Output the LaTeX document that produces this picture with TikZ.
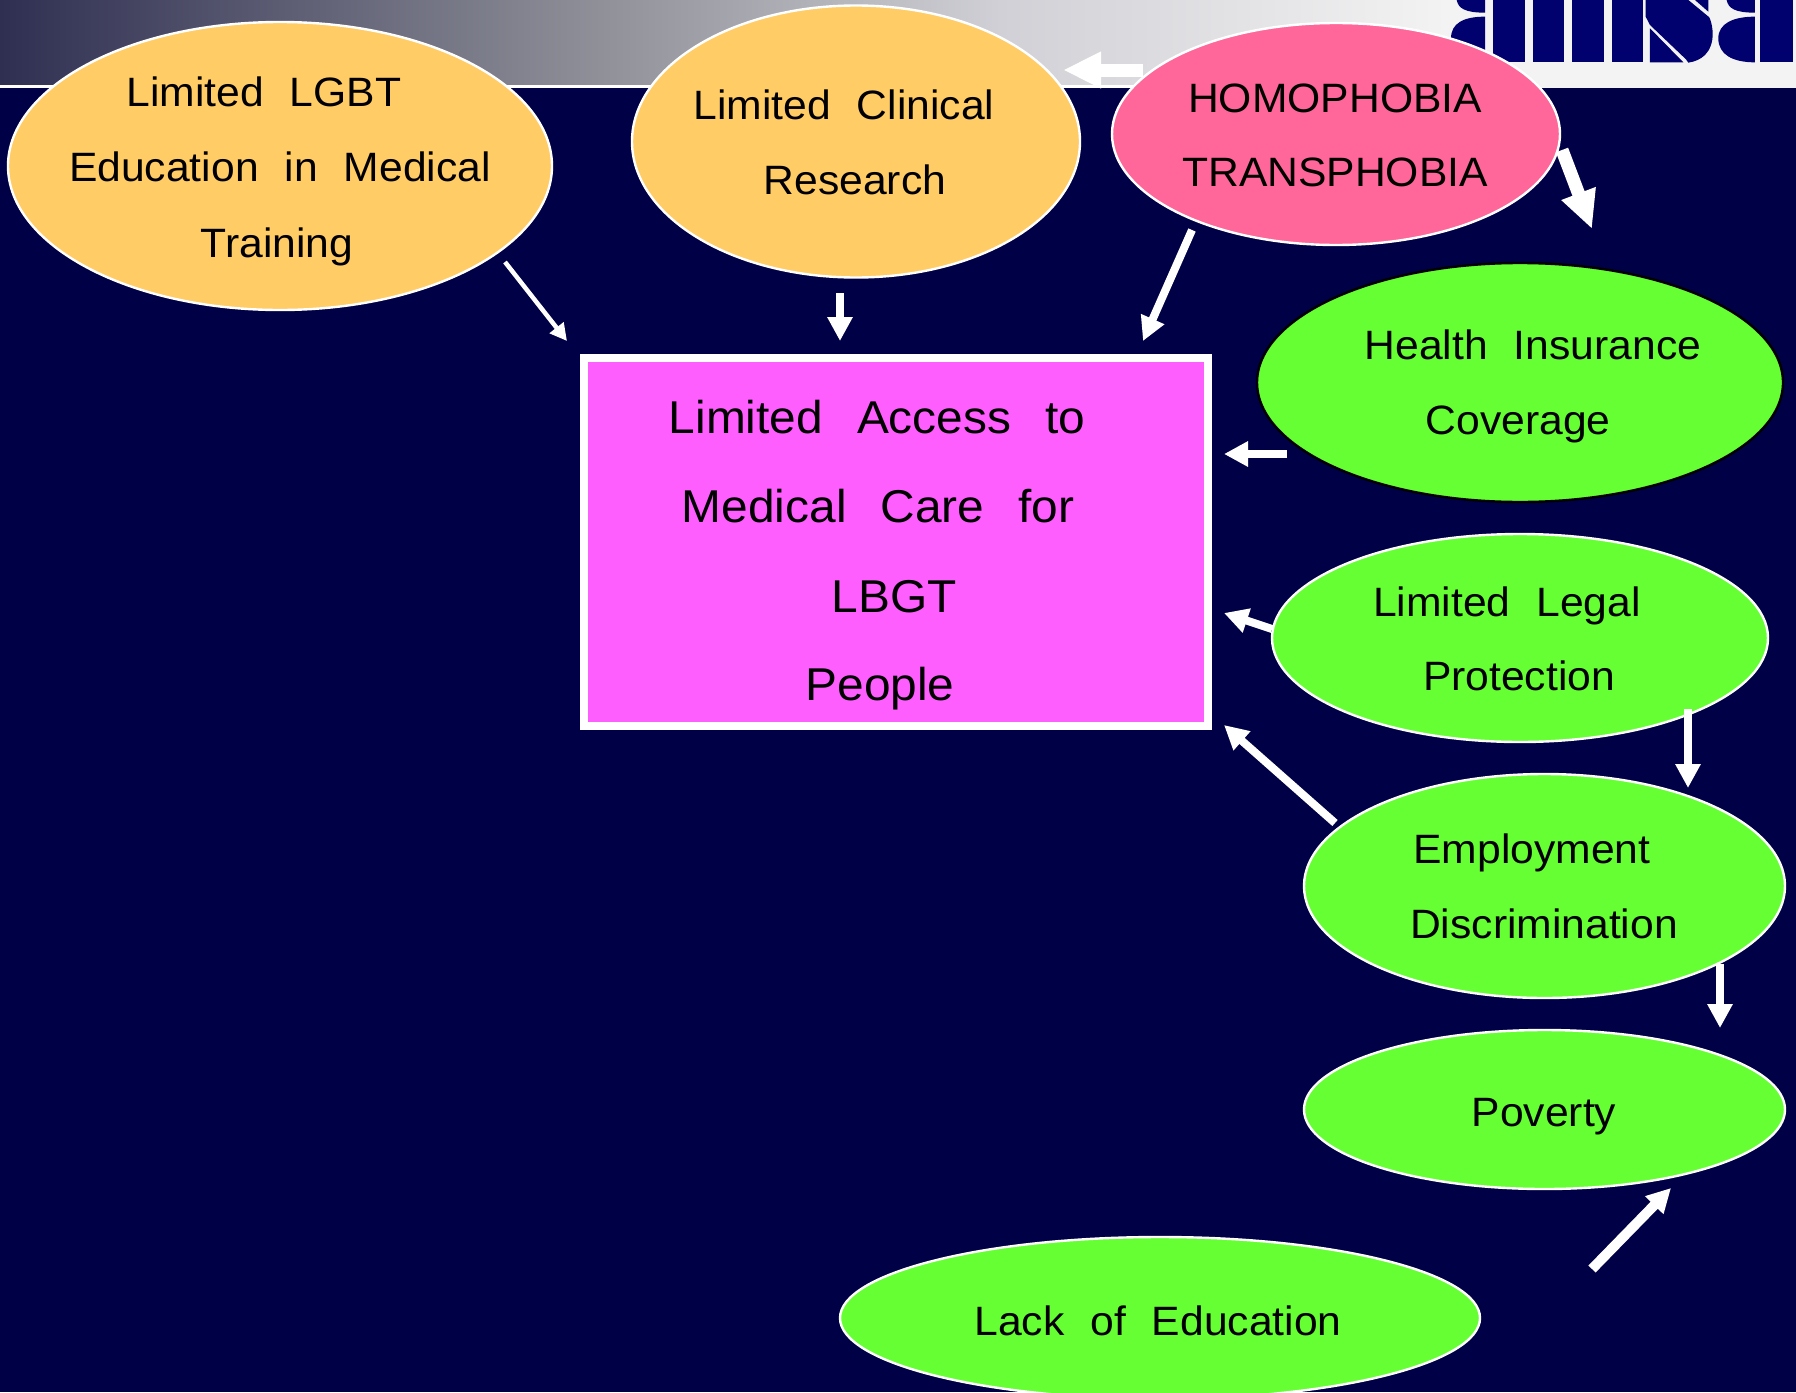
\documentclass[tikz,border=0pt]{standalone}
\usepackage{fontspec}
\setmainfont[FakeStretch=1.04]{Liberation Sans}
\usetikzlibrary{arrows.meta,shapes.geometric}
\definecolor{navy}{HTML}{000046}
\definecolor{logoblue}{HTML}{00006E}
\definecolor{orangefill}{HTML}{FFCC66}
\definecolor{pinkfill}{HTML}{FF6699}
\definecolor{greenfill}{HTML}{66FF33}
\definecolor{magentafill}{HTML}{FF5EFF}
\definecolor{hleft}{HTML}{2F2F52}
\definecolor{hmidA}{HTML}{8F9098}
\definecolor{hmidB}{HTML}{D0D0D6}
\definecolor{hright}{HTML}{F3F3F3}
\newcommand{\ovalfont}{\fontsize{41}{41}\selectfont\setlength{\spaceskip}{26pt}\relax}
\newcommand{\boxfont}{\fontsize{46}{46}\selectfont\setlength{\spaceskip}{34pt}\relax}
\tikzset{
  oval/.style={ellipse,draw=white,line width=2.4pt,inner sep=0pt,outer sep=0pt},
  ovalorange/.style={oval,fill=orangefill},
  ovalpink/.style={oval,fill=pinkfill},
  ovalgreen/.style={oval,fill=greenfill},
  ovalblack/.style={oval,fill=greenfill,draw=black},
  txt/.style={anchor=base,inner sep=0pt,text=black,execute at begin node=\ovalfont},
  bigtxt/.style={anchor=base,inner sep=0pt,text=black,execute at begin node=\boxfont},
  arrowthin/.style={draw=white,line width=4.5pt,-{Triangle[length=17pt,width=17pt]}},
  arrowmid/.style={draw=white,line width=8pt,-{Triangle[length=24pt,width=24pt]}},
  arrowfat/.style={draw=white,line width=13pt,-{Triangle[length=38pt,width=34pt]}},
  logoshape/.style={fill=logoblue,draw=none}
}
\begin{document}
\begin{tikzpicture}[x=1pt,y=-1pt]
\useasboundingbox (0,0) rectangle (1796,1392);
\clip (0,0) rectangle (1796,1392);
\fill[navy] (0,0) rectangle (1796,1392);
% header band
\shade[left color=hleft,right color=hmidA,draw=none] (0,0) rectangle (601,85);
\shade[left color=hmidA,right color=hmidB,draw=none] (600,0) rectangle (1001,85);
\shade[left color=hmidB,right color=hright,draw=none] (1000,0) rectangle (1447,85);
\fill[hright] (1447,0) rectangle (1796,88);
\fill[white] (0,85) rectangle (1447,88);
% logo fragment
\begin{scope}[shift={(1440,0)},x=0.3333pt,y=-0.3333pt]
  \fill[logoshape] (50,0) .. controls (55,25) and (75,38) .. (135,38) -- (135,0) -- cycle;
  \fill[logoshape] (135,50) .. controls (70,50) and (33,70) .. (33,115) .. controls (33,165) and (70,187) .. (135,187) -- cycle;
  \fill[logoshape] (160,0) rectangle (255,187);
  \fill[logoshape] (278,0) rectangle (373,187);
  \fill[logoshape] (397,0) rectangle (493,187);
  \fill[logoshape] (515,0) rectangle (610,187);
  \fill[logoshape] (617,0) -- (745,0) -- (808,52) .. controls (825,90) and (830,175) .. (745,188) -- (738,178) -- (630,75) -- (617,50) -- cycle;
  \fill[logoshape] (630,85) -- (730,187) -- (630,187) -- cycle;
  \fill[logoshape] (765,0) -- (805,0) -- (805,35) -- cycle;
  \fill[logoshape] (860,0) .. controls (865,25) and (885,38) .. (945,38) -- (945,0) -- cycle;
  \fill[logoshape] (945,50) .. controls (880,50) and (835,70) .. (835,115) .. controls (835,165) and (880,187) .. (945,187) -- cycle;
  \fill[logoshape] (960,0) rectangle (1058,187);
\end{scope}
% arrow end points
\coordinate (lgbt-out) at (505,262);
\coordinate (box-in-lgbt) at (567,341);
\coordinate (clin-out) at (840,293);
\coordinate (box-in-clin) at (840,341);
\coordinate (homo-out-box) at (1192,230);
\coordinate (box-in-homo) at (1143,341);
\coordinate (homo-out-clin) at (1143,70);
\coordinate (clin-in-homo) at (1063,70);
\coordinate (homo-out-health) at (1562,150);
\coordinate (health-in) at (1592,229);
\coordinate (health-out) at (1287,454);
\coordinate (box-in-health) at (1224,454);
\coordinate (legal-out-box) at (1272,629);
\coordinate (box-in-legal) at (1224,613);
\coordinate (emp-out-box) at (1335,823);
\coordinate (box-in-emp) at (1224,725);
\coordinate (legal-out-emp) at (1688,709);
\coordinate (emp-in) at (1688,788);
\coordinate (emp-out-pov) at (1720,964);
\coordinate (pov-in-emp) at (1720,1028);
\coordinate (lack-out) at (1592,1269);
\coordinate (pov-in-lack) at (1671,1188);
% ovals
\node[ovalorange,minimum width=544pt,minimum height=288pt] (lgbt) at (280,166) {};
\node[ovalorange,minimum width=448pt,minimum height=272pt] (clin) at (856,141.5) {};
\node[ovalpink,minimum width=448pt,minimum height=222pt] (homo) at (1336,134) {};
\node[ovalblack,minimum width=526pt,minimum height=239pt] (health) at (1520,382.5) {};
\node[ovalgreen,minimum width=496pt,minimum height=208pt] (legal) at (1520,638) {};
\node[ovalgreen,minimum width=481pt,minimum height=224pt] (emp) at (1544.5,886) {};
\node[ovalgreen,minimum width=481pt,minimum height=159pt] (pov) at (1544.5,1109.5) {};
\node[ovalgreen,minimum width=640pt,minimum height=162pt] (lack) at (1160,1318) {};
% central box
\node[draw=white,line width=8pt,fill=magentafill,minimum width=624pt,minimum height=368pt,inner sep=0pt,outer sep=0pt] (box) at (896,542) {};
% connectors
\draw[arrowthin] (lgbt-out) -- (box-in-lgbt);
\draw[arrowmid] (clin-out) -- (box-in-clin);
\draw[arrowmid] (homo-out-box) -- (box-in-homo);
\draw[arrowfat] (homo-out-clin) -- (clin-in-homo);
\draw[arrowfat] (homo-out-health) -- (health-in);
\draw[arrowmid] (health-out) -- (box-in-health);
\draw[arrowmid] (legal-out-box) -- (box-in-legal);
\draw[arrowmid] (emp-out-box) -- (box-in-emp);
\draw[arrowmid] (legal-out-emp) -- (emp-in);
\draw[arrowmid] (emp-out-pov) -- (pov-in-emp);
\draw[arrowmid,line width=10pt] (lack-out) -- (pov-in-lack);
% labels
\node[txt] (lgbt-l1) at (264,106) {Limited LGBT};
\node[txt] (lgbt-l2) at (280,181) {Education in Medical};
\node[txt] (lgbt-l3) at (277,257) {Training};
\node[txt] (clin-l1) at (844,119) {Limited Clinical};
\node[txt] (clin-l2) at (855,194) {Research};
\node[txt] (homo-l1) at (1335,112) {HOMOPHOBIA};
\node[txt] (homo-l2) at (1335,186) {TRANSPHOBIA};
\node[txt] (health-l1) at (1533,359) {Health Insurance};
\node[txt] (health-l2) at (1518,434) {Coverage};
\node[txt] (legal-l1) at (1507,616) {Limited Legal};
\node[txt] (legal-l2) at (1519,690) {Protection};
\node[txt] (emp-l1) at (1532,863) {Employment};
\node[txt] (emp-l2) at (1544,938) {Discrimination};
\node[txt] (pov-l1) at (1544,1126) {Poverty};
\node[txt] (lack-l1) at (1158,1335) {Lack of Education};
\node[bigtxt] (box-l1) at (877,433) {Limited Access to};
\node[bigtxt] (box-l2) at (878,522) {Medical Care for};
\node[bigtxt] (box-l3) at (894,612) {LBGT};
\node[bigtxt] (box-l4) at (880,700) {People};
\end{tikzpicture}
\end{document}
